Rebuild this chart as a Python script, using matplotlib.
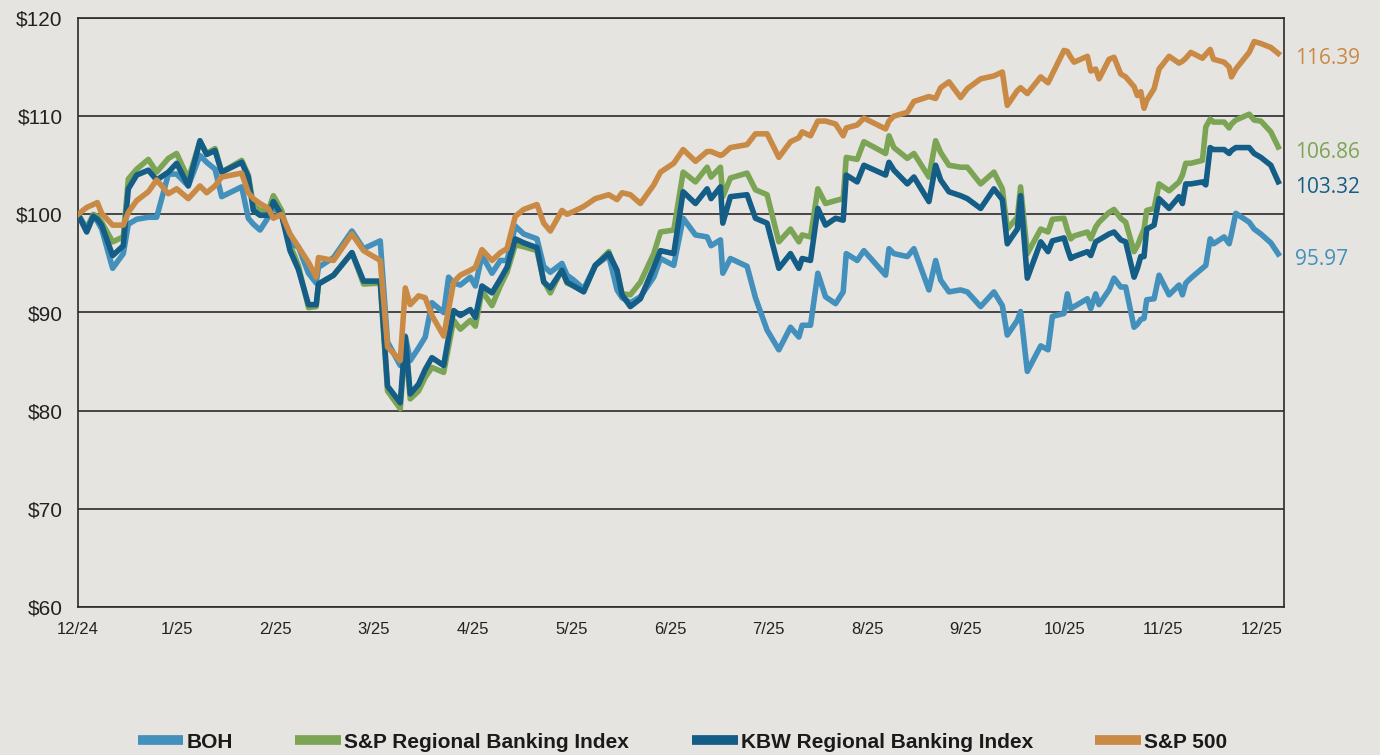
import matplotlib.pyplot as plt
from matplotlib.lines import Line2D

# time axis in months since 12/24 (month-end points)
t = [0.000, 0.088, 0.155, 0.196, 0.240, 0.351, 0.459, 0.510, 0.595, 0.713, 0.797, 0.916, 1.000, 1.118, 1.236, 1.304, 1.389, 1.456, 1.659, 1.726, 1.777, 1.845, 1.929, 1.980, 2.064, 2.149, 2.233,
     2.336, 2.414, 2.437, 2.590, 2.776, 2.894, 3.063, 3.137, 3.266, 3.317, 3.367, 3.452, 3.519, 3.587, 3.706, 3.756, 3.807, 3.875, 3.976, 4.027, 4.094, 4.196, 4.280, 4.348, 4.432, 4.517, 4.652, 4.720, 4.787,
     4.905, 4.956, 5.024, 5.125, 5.243, 5.379, 5.463, 5.514, 5.598, 5.700, 5.835, 5.903, 6.038, 6.133, 6.258, 6.376, 6.416, 6.511, 6.535, 6.612, 6.781, 6.866, 6.984, 7.103, 7.221,
     7.306, 7.339, 7.424, 7.498, 7.576, 7.678, 7.755, 7.786, 7.897, 7.965, 8.185, 8.219, 8.269, 8.405, 8.472, 8.624, 8.692, 8.743, 8.827, 8.945, 9.013, 9.148, 9.283, 9.368, 9.418, 9.520, 9.553, 9.621,
     9.757, 9.831, 9.875, 9.993, 10.027, 10.061, 10.095, 10.230, 10.264, 10.314, 10.348, 10.450, 10.500, 10.568, 10.618, 10.703, 10.737, 10.771, 10.804, 10.831, 10.906, 10.956, 11.058, 11.159, 11.193, 11.227, 11.278, 11.396, 11.430, 11.474, 11.508, 11.616, 11.667, 11.690, 11.734, 11.870, 11.920, 11.988, 12.089, 12.164]

boh = [100, 98.5, 99.8, 99.3, 98.5, 94.5, 96.0, 99.0, 99.5, 99.7, 99.7, 104.1, 104.1, 102.9, 106.0, 105.3, 104.6, 101.8, 102.8, 99.6, 99.0, 98.4, 99.7, 100.7, 99.9, 97.0, 96.7,
       94.0, 93.0, 94.6, 95.6, 98.3, 96.5, 97.3, 87.0, 84.6, 87.6, 85.1, 86.4, 87.5, 91.0, 90.0, 93.6, 93.0, 92.8, 93.6, 92.7, 95.8, 94.0, 95.3, 95.3, 98.8, 98.0, 97.5, 94.7, 94.1,
       95.0, 93.8, 93.3, 92.4, 94.8, 95.8, 92.3, 91.5, 91.0, 91.6, 93.6, 95.5, 94.8, 99.6, 97.9, 97.7, 96.8, 97.4, 94.0, 95.5, 94.7, 91.5, 88.2, 86.2, 88.5,
       87.5, 88.7, 88.7, 94.0, 91.6, 90.9, 92.1, 96.0, 95.3, 96.3, 93.8, 96.5, 96.0, 95.7, 96.5, 92.3, 95.3, 93.3, 92.1, 92.3, 92.1, 90.6, 92.1, 90.7, 87.7, 89.2, 90.1, 84.0,
       86.6, 86.2, 89.6, 89.9, 91.9, 90.4, 90.6, 91.4, 90.4, 91.9, 90.8, 92.3, 93.5, 92.6, 92.6, 88.5, 88.8, 89.3, 89.4, 91.3, 91.4, 93.8, 91.8, 92.8, 91.8, 93.0, 93.5, 94.5, 94.8, 97.5, 97.0, 97.7, 97.0, 98.0, 100.1, 99.2, 98.5, 98.0, 97.1, 95.97]

sp_regional = [100, 98.6, 100.0, 99.8, 99.2, 97.2, 97.7, 103.6, 104.6, 105.6, 104.3, 105.7, 106.2, 103.6, 107.4, 106.2, 106.7, 104.3, 105.5, 104.0, 100.9, 100.4, 100.4, 101.9, 100.4, 96.9, 94.8,
               90.5, 90.6, 92.9, 93.8, 96.1, 92.9, 93.0, 82.0, 80.2, 87.0, 81.2, 82.0, 83.4, 84.4, 83.9, 86.5, 89.2, 88.3, 89.2, 88.6, 92.2, 90.7, 92.7, 94.1, 96.9, 96.7, 96.3, 93.2, 92.0,
               94.4, 93.0, 92.7, 92.2, 94.8, 96.2, 94.0, 91.9, 91.8, 93.1, 96.0, 98.2, 98.4, 104.3, 103.3, 104.8, 103.8, 104.8, 101.8, 103.7, 104.2, 102.5, 102.0, 97.2, 98.5,
               97.2, 97.9, 97.7, 102.6, 101.1, 101.4, 101.6, 105.8, 105.6, 107.4, 106.2, 108.0, 106.8, 105.7, 106.2, 103.8, 107.5, 106.3, 105.0, 104.8, 104.8, 103.1, 104.3, 102.6, 98.5, 99.7, 102.8, 96.0,
               98.5, 98.2, 99.5, 99.6, 98.4, 97.5, 97.8, 98.2, 97.5, 98.7, 99.2, 100.2, 100.5, 99.6, 99.2, 96.2, 96.8, 97.7, 98.5, 100.4, 100.6, 103.1, 102.4, 103.3, 104.0, 105.2, 105.2, 105.5, 108.9, 109.7, 109.4, 109.4, 108.8, 109.2, 109.6, 110.2, 109.6, 109.5, 108.4, 106.86]

kbw = [100, 98.2, 99.8, 99.5, 98.9, 95.8, 96.8, 102.6, 104.0, 104.5, 103.5, 104.3, 105.2, 102.9, 107.5, 106.1, 106.5, 104.3, 105.3, 103.8, 100.4, 99.9, 99.9, 101.3, 99.9, 96.3, 94.4,
       90.8, 90.8, 92.9, 93.8, 96.1, 93.2, 93.2, 82.5, 80.8, 87.5, 81.7, 82.7, 84.2, 85.4, 84.6, 87.5, 90.2, 89.7, 90.3, 89.5, 92.7, 92.0, 93.4, 94.6, 97.5, 97.1, 96.6, 93.1, 92.5,
       94.3, 93.1, 92.7, 92.1, 94.8, 96.0, 94.3, 91.8, 90.6, 91.4, 94.6, 96.3, 96.0, 102.3, 101.1, 102.6, 101.6, 102.8, 99.1, 101.8, 102.0, 99.6, 99.1, 94.5, 96.0,
       94.5, 95.5, 95.3, 100.6, 98.9, 99.6, 99.4, 104.0, 103.3, 105.0, 104.0, 105.3, 104.5, 103.1, 103.8, 101.3, 105.0, 103.5, 102.3, 101.9, 101.6, 100.6, 102.6, 101.5, 97.0, 98.5, 101.9, 93.5,
       97.2, 96.2, 97.3, 97.6, 96.5, 95.5, 95.7, 96.2, 95.8, 97.2, 97.4, 98.0, 98.2, 97.4, 97.2, 93.6, 94.5, 95.7, 95.7, 98.5, 98.9, 101.6, 100.6, 101.8, 101.1, 103.1, 103.1, 103.3, 103.0, 106.8, 106.6, 106.6, 106.2, 106.5, 106.8, 106.8, 106.2, 105.8, 105.0, 103.32]

sp500 = [100, 100.7, 101.0, 101.2, 100.1, 98.9, 98.9, 100.2, 101.4, 102.3, 103.5, 102.1, 102.6, 101.6, 102.9, 102.2, 102.9, 103.8, 104.2, 102.2, 101.6, 101.1, 100.6, 99.6, 100.0, 98.0, 96.7,
         95.1, 93.6, 95.6, 95.3, 98.0, 96.3, 95.3, 86.5, 85.1, 92.5, 90.8, 91.7, 91.5, 89.7, 87.6, 90.3, 93.1, 93.8, 94.3, 94.6, 96.4, 95.3, 96.1, 96.5, 99.8, 100.5, 101.0, 99.1, 98.3,
         100.4, 100.0, 100.3, 100.8, 101.6, 102.0, 101.5, 102.2, 102.0, 101.1, 103.0, 104.3, 105.2, 106.6, 105.4, 106.4, 106.4, 106.0, 106.1, 106.8, 107.1, 108.2, 108.2, 105.8, 107.4,
         107.8, 108.4, 108.0, 109.5, 109.5, 109.2, 108.0, 108.8, 109.1, 109.8, 108.7, 109.5, 110.0, 110.4, 111.5, 112.0, 111.8, 112.9, 113.5, 111.9, 112.8, 113.8, 114.1, 114.5, 111.1, 112.6, 112.9, 112.3,
         114.0, 113.4, 114.3, 116.7, 116.6, 116.0, 115.5, 116.1, 114.6, 114.8, 113.8, 115.8, 116.0, 114.3, 114.0, 113.0, 112.1, 112.5, 110.8, 111.6, 112.8, 114.8, 116.1, 115.4, 115.6, 115.9, 116.5, 115.9, 116.3, 116.8, 115.8, 115.5, 115.0, 114.0, 114.8, 116.5, 117.6, 117.4, 117.0, 116.39]

month_labels = ['12/24', '1/25', '2/25', '3/25', '4/25', '5/25', '6/25',
                '7/25', '8/25', '9/25', '10/25', '11/25', '12/25']
y_ticks = [60, 70, 80, 90, 100, 110, 120]

names = ['BOH', 'S&P Regional Banking Index', 'KBW Regional Banking Index', 'S&P 500']
colors = ['#4290bb', '#7ca455', '#135d87', '#c98a45']
series = [boh, sp_regional, kbw, sp500]
zorders = [3, 2, 4, 5]

bg = '#e5e4e0'
sans = ['Liberation Sans', 'DejaVu Sans']

fig = plt.figure(figsize=(13.8, 7.55), dpi=100, facecolor=bg)
ax = fig.add_axes([78 / 1380, 1 - 607 / 755, (1284 - 78) / 1380, (607 - 18) / 755])
ax.set_facecolor(bg)

for vals, c, z in zip(series, colors, zorders):
    ax.plot(t, vals, color=c, lw=4, zorder=z, solid_joinstyle='round')
    ax.annotate(f'{vals[-1]:.2f}', xy=(t[-1], vals[-1]), xytext=(12, -4),
                textcoords='offset points', color=c, fontsize=15,
                family=['Open Sans', 'DejaVu Sans'], va='center', ha='left',
                annotation_clip=False)

ax.set_xlim(0, 1206 / 98.67)
ax.set_ylim(60, 120)
ax.set_yticks(y_ticks)
ax.set_yticklabels([f'${v}' for v in y_ticks], family=sans, fontsize=15, color='#222222')
ax.set_xticks(range(len(month_labels)))
ax.set_xticklabels(month_labels, family=sans, fontsize=12, color='#222222')
ax.tick_params(length=0)
ax.tick_params(axis='y', pad=11)
ax.tick_params(axis='x', pad=11)

ax.grid(axis='y', color='#2b2b2b', lw=1.2, zorder=1)
for s in ax.spines.values():
    s.set_color('#2b2b2b')
    s.set_linewidth(1.2)

handles = [Line2D([], [], color=c, lw=7, solid_capstyle='butt') for c in colors]
leg = fig.legend(handles, names, loc='center', bbox_to_anchor=(0.4946, 1 - 742 / 755),
                 ncol=4, frameon=False, handlelength=2.2, handletextpad=0.15,
                 columnspacing=3.0, prop={'family': sans, 'weight': 'bold', 'size': 15})
for txt in leg.get_texts():
    txt.set_color('#1a1a1a')

fig.savefig('out.png', dpi=100, facecolor=bg)
